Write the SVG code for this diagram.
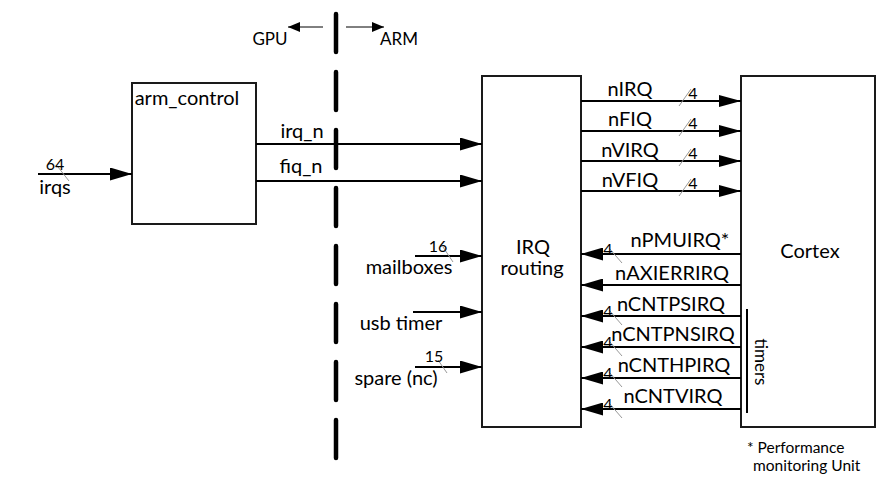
<svg xmlns="http://www.w3.org/2000/svg" width="885" height="480" viewBox="0 0 885 480">
<defs>
<marker id="ah" markerUnits="userSpaceOnUse" markerWidth="22" markerHeight="13" refX="22" refY="6.5" orient="auto"><path d="M0,0 L22,6.5 L0,13 z" fill="#000"/></marker>
<marker id="ahs" markerUnits="userSpaceOnUse" markerWidth="22" markerHeight="12" refX="22" refY="6" orient="auto"><path d="M0,0 L22,6 L0,12 z" fill="#000"/></marker>
<marker id="ahg" markerUnits="userSpaceOnUse" markerWidth="12" markerHeight="10" refX="12" refY="5" orient="auto"><path d="M0,0 L12,5 L0,10 z" fill="#000"/></marker>
<style>
text{font-family:Lato,"Liberation Sans",sans-serif;fill:#000;}
.lb{font-size:20px;text-anchor:middle;}
.sm{font-size:16px;text-anchor:middle;}
.fn{font-size:15.5px;}
.hd{font-size:17px;text-anchor:middle;}
.box{fill:#fff;stroke:#1a1a1a;stroke-width:2;}
.w{stroke:#000;stroke-width:2;fill:none;}
.tk{stroke:#999;stroke-width:1;}
.dash{stroke:#000;stroke-width:4.5;stroke-linecap:round;stroke-dasharray:38 20;}
.ga{stroke:#000;stroke-width:1;}
</style>
</defs>

<g id="divider">
<line class="dash" x1="336" y1="14" x2="336" y2="460"/>
<line class="ga" x1="323" y1="27" x2="288" y2="27" marker-end="url(#ahg)"/>
<line class="ga" x1="346" y1="27" x2="384" y2="27" marker-end="url(#ahg)"/>
<text class="hd" x="270" y="45">GPU</text>
<text class="hd" x="399" y="45">ARM</text>
</g>

<g id="arm_control">
<rect class="box" x="132" y="83" width="124" height="141"/>
<text class="lb" x="187" y="105">arm_control</text>
</g>

<g id="irq_routing">
<rect class="box" x="482" y="76" width="99" height="351"/>
<text class="lb" x="533" y="254">IRQ</text>
<text class="lb" x="532" y="275">routing</text>
</g>

<g id="cortex">
<rect class="box" x="741" y="76" width="134" height="351"/>
<text class="lb" x="810" y="258">Cortex</text>
<line x1="747" y1="309" x2="747" y2="413" stroke="#000" stroke-width="2"/>
<text class="hd" transform="translate(755,362) rotate(90)">timers</text>
</g>

<g id="connectors">
<line class="w" x1="38" y1="174" x2="132" y2="174" marker-end="url(#ah)"/>
<line class="tk" x1="58" y1="167" x2="69" y2="181"/>
<text class="sm" x="55" y="170">64</text>
<text class="lb" x="55" y="194">irqs</text>

<line class="w" x1="256" y1="144" x2="482" y2="144" marker-end="url(#ah)"/>
<text class="lb" x="302" y="138">irq_n</text>
<line class="w" x1="256" y1="181" x2="482" y2="181" marker-end="url(#ah)"/>
<text class="lb" x="301" y="173">fiq_n</text>

<line class="w" x1="415" y1="256" x2="482" y2="256" marker-end="url(#ah)"/>
<line class="tk" x1="443" y1="247" x2="453" y2="262"/>
<text class="sm" x="438" y="252">16</text>
<text class="lb" x="409" y="274">mailboxes</text>

<line class="w" x1="413" y1="312" x2="482" y2="312" marker-end="url(#ah)"/>
<text class="lb" x="401" y="330">usb timer</text>

<line class="w" x1="415" y1="367" x2="482" y2="367" marker-end="url(#ah)"/>
<line class="tk" x1="438" y1="360" x2="447" y2="373"/>
<text class="sm" x="434" y="362">15</text>
<text class="lb" x="396" y="385">spare (nc)</text>

<line class="w" x1="581" y1="101" x2="741" y2="101" marker-end="url(#ahs)"/>
<line class="tk" x1="679" y1="106" x2="691" y2="89"/>
<text class="sm" x="693" y="99">4</text>
<text class="lb" x="630" y="96">nIRQ</text>

<line class="w" x1="581" y1="131" x2="741" y2="131" marker-end="url(#ahs)"/>
<line class="tk" x1="679" y1="136" x2="691" y2="119"/>
<text class="sm" x="693" y="129">4</text>
<text class="lb" x="630" y="126">nFIQ</text>

<line class="w" x1="581" y1="161" x2="741" y2="161" marker-end="url(#ahs)"/>
<line class="tk" x1="679" y1="166" x2="691" y2="149"/>
<text class="sm" x="693" y="159">4</text>
<text class="lb" x="630" y="157">nVIRQ</text>

<line class="w" x1="581" y1="191" x2="741" y2="191" marker-end="url(#ahs)"/>
<line class="tk" x1="679" y1="196" x2="691" y2="179"/>
<text class="sm" x="693" y="189">4</text>
<text class="lb" x="630" y="187">nVFIQ</text>

<line class="w" x1="741" y1="254" x2="581" y2="254" marker-end="url(#ah)"/>
<line class="tk" x1="609" y1="248" x2="622" y2="263"/>
<text class="sm" x="608" y="255">4</text>
<text class="lb" x="680" y="247">nPMUIRQ*</text>

<line class="w" x1="741" y1="285" x2="581" y2="285" marker-end="url(#ah)"/>
<text class="lb" x="672" y="280">nAXIERRIRQ</text>

<line class="w" x1="741" y1="316" x2="581" y2="316" marker-end="url(#ah)"/>
<line class="tk" x1="609" y1="310" x2="622" y2="325"/>
<text class="sm" x="608" y="317">4</text>
<text class="lb" x="671" y="311">nCNTPSIRQ</text>

<line class="w" x1="741" y1="347" x2="581" y2="347" marker-end="url(#ah)"/>
<line class="tk" x1="609" y1="341" x2="622" y2="356"/>
<text class="sm" x="608" y="348">4</text>
<text class="lb" x="673" y="341">nCNTPNSIRQ</text>

<line class="w" x1="741" y1="378" x2="581" y2="378" marker-end="url(#ah)"/>
<line class="tk" x1="609" y1="372" x2="622" y2="387"/>
<text class="sm" x="608" y="379">4</text>
<text class="lb" x="674" y="372">nCNTHPIRQ</text>

<line class="w" x1="741" y1="409" x2="581" y2="409" marker-end="url(#ah)"/>
<line class="tk" x1="609" y1="403" x2="622" y2="418"/>
<text class="sm" x="608" y="410">4</text>
<text class="lb" x="673" y="403">nCNTVIRQ</text>
</g>

<g id="footnote">
<text class="fn" x="747" y="453">* Performance</text>
<text class="fn" x="753" y="471">monitoring Unit</text>
</g>
</svg>
